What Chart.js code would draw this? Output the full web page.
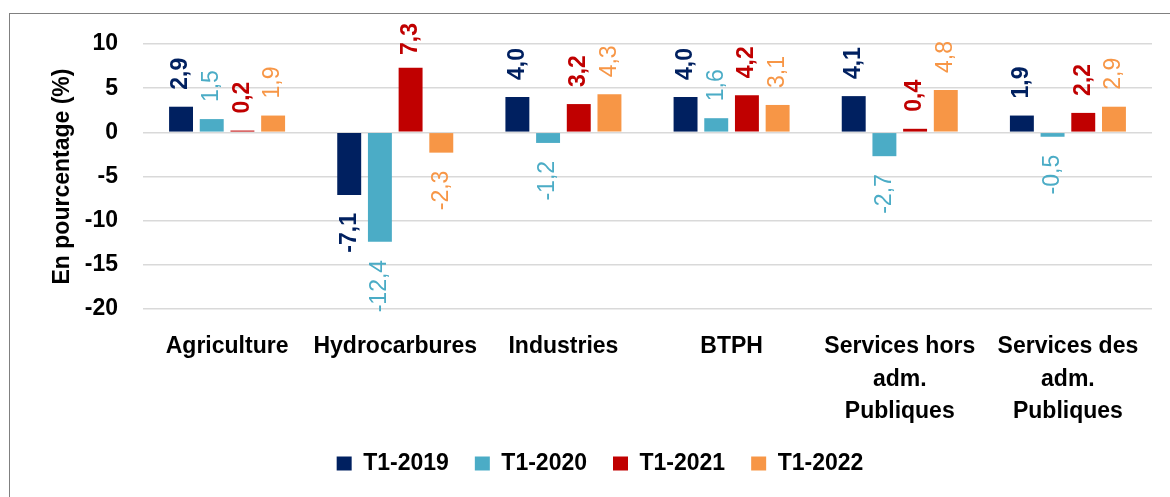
<!DOCTYPE html>
<html>
<head>
<meta charset="utf-8">
<script src="https://cdn.jsdelivr.net/npm/chart.js@4/dist/chart.umd.min.js"></script>
<style>
  body { margin: 0; background: #fff; }
  #frame { position: absolute; left: 9px; top: 13px; width: 1200px; height: 520px; border: 1px solid #808080; }
  #c { position: absolute; left: 0; top: 0; }
</style>
</head>
<body>
<div id="frame"></div>
<canvas id="c" width="1170" height="497"></canvas>
<script>
const categories = ['Agriculture', 'Hydrocarbures', 'Industries', 'BTPH',
  ['Services hors', 'adm.', 'Publiques'], ['Services des', 'adm.', 'Publiques']];
const seriesNames = ['T1-2019', 'T1-2020', 'T1-2021', 'T1-2022'];
const t1_2019 = [2.9, -7.1, 4.0, 4.0, 4.1, 1.9];
const t1_2020 = [1.5, -12.4, -1.2, 1.6, -2.7, -0.5];
const t1_2021 = [0.2, 7.3, 3.2, 4.2, 0.4, 2.2];
const t1_2022 = [1.9, -2.3, 4.3, 3.1, 4.8, 2.9];
const yTicks = [10, 5, 0, -5, -10, -15, -20];

const colors = ['#002060', '#4BACC6', '#C00000', '#F79646'];
const labelBold = [true, false, true, false];
const FONT = '"Liberation Sans", Arial, sans-serif';

// vertical value labels above / below each bar (kept inside the frame)
const barLabels = {
  id: 'barLabels',
  afterDatasetsDraw(chart) {
    const ctx = chart.ctx;
    chart.data.datasets.forEach((ds, i) => {
      const meta = chart.getDatasetMeta(i);
      meta.data.forEach((bar, j) => {
        const v = ds.data[j];
        const txt = v.toFixed(1).replace('.', ',');
        ctx.save();
        ctx.font = (labelBold[i] ? 'bold ' : '') + '23px ' + FONT;
        ctx.fillStyle = colors[i];
        let y = v >= 0 ? bar.y - 17 : bar.y + 18;
        if (v >= 0) {
          const w = ctx.measureText(txt).width;
          if (y - w < 23) y = 23 + w;
        }
        ctx.translate(bar.x, y);
        ctx.rotate(-Math.PI / 2);
        ctx.textAlign = v >= 0 ? 'left' : 'right';
        ctx.textBaseline = 'middle';
        ctx.fillText(txt, 0, 0);
        ctx.restore();
      });
    });
  }
};

const values = [t1_2019, t1_2020, t1_2021, t1_2022];

new Chart(document.getElementById('c'), {
  type: 'bar',
  data: {
    labels: categories,
    datasets: seriesNames.map((name, i) => ({
      label: name,
      data: values[i],
      backgroundColor: colors[i],
      categoryPercentage: 0.73,
      barPercentage: 0.78
    }))
  },
  options: {
    responsive: false,
    animation: false,
    devicePixelRatio: 1,
    layout: { padding: { top: 44, right: 18, left: 48, bottom: 12 } },
    plugins: {
      tooltip: { enabled: false },
      legend: {
        position: 'bottom',
        labels: {
          boxWidth: 15,
          boxHeight: 14,
          padding: 26,
          color: '#000',
          font: { family: FONT, size: 23, weight: 'bold' }
        }
      }
    },
    scales: {
      x: {
        grid: { display: false, drawTicks: false },
        border: { display: false },
        afterFit: s => { s.height = 117; },
        ticks: {
          color: '#000',
          padding: 22,
          maxRotation: 0,
          autoSkip: false,
          font: { family: FONT, size: 23, weight: 'bold', lineHeight: 1.4 }
        }
      },
      y: {
        min: -20,
        max: 10,
        afterFit: s => { s.width = 95; },
        afterBuildTicks: s => { s.ticks = yTicks.map(v => ({ value: v })); },
        grid: { color: '#d9d9d9', lineWidth: 1.5, drawTicks: false },
        border: { display: false },
        ticks: {
          color: '#000',
          padding: 25,
          font: { family: FONT, size: 23, weight: 'bold' }
        },
        title: {
          display: true,
          text: 'En pourcentage (%)',
          color: '#000',
          padding: { top: 1 },
          font: { family: FONT, size: 23, weight: 'bold' }
        }
      }
    }
  },
  plugins: [barLabels]
});
</script>
</body>
</html>
